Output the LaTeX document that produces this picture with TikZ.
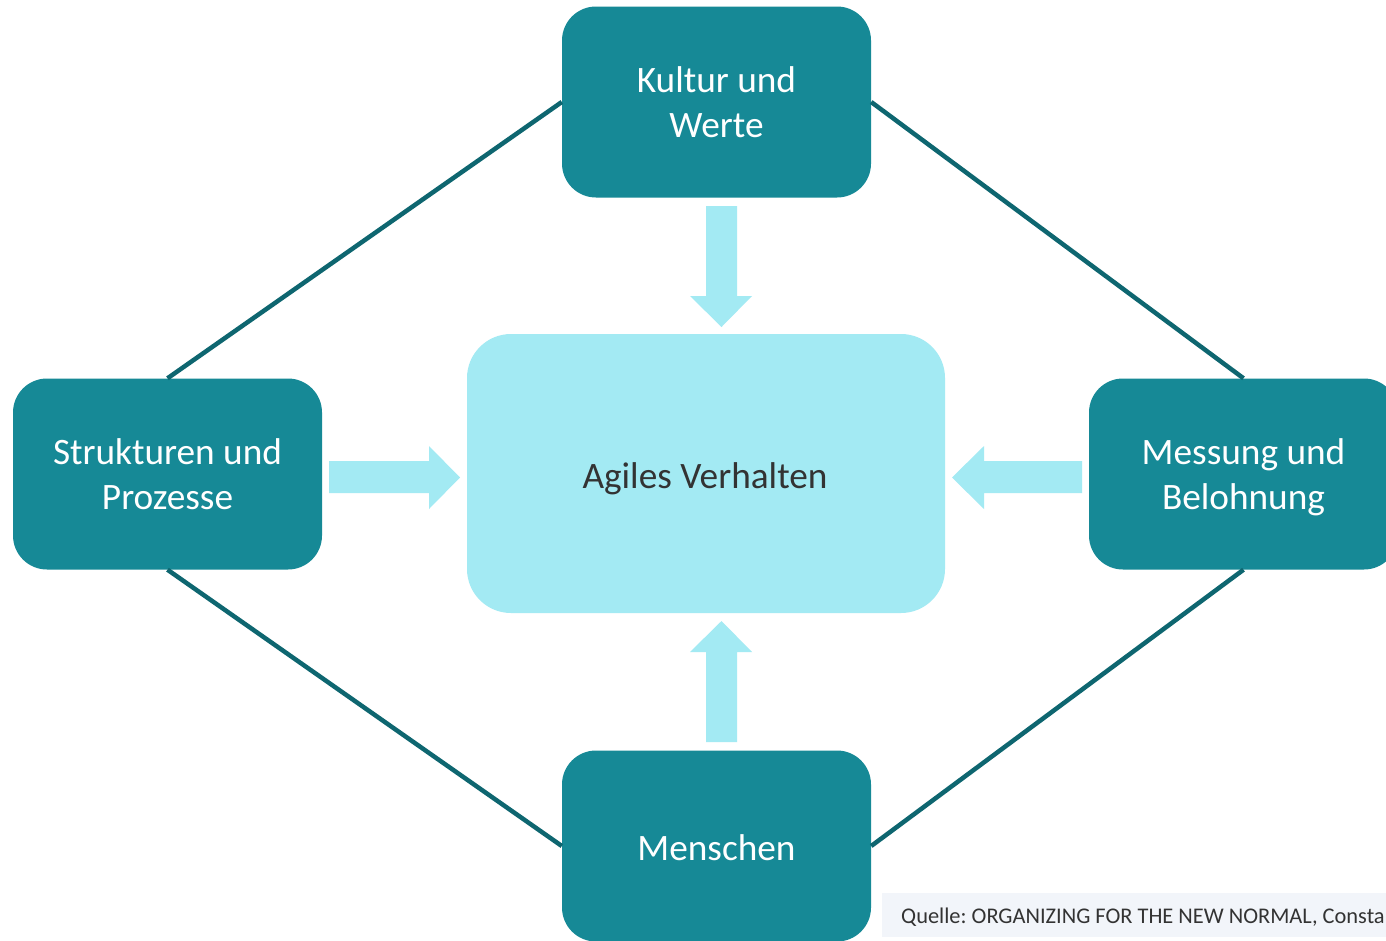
\documentclass[tikz,border=0pt]{standalone}
\usepackage{fontspec}
\setmainfont{Carlito}
\frenchspacing
\definecolor{teal}{RGB}{22,137,150}
\definecolor{darkteal}{RGB}{14,102,112}
\definecolor{lightcyan}{RGB}{163,234,243}
\definecolor{notebg}{RGB}{242,245,250}
\definecolor{darktext}{RGB}{51,51,51}
\begin{document}
\begin{tikzpicture}[x=1pt,y=-1pt,
  outer/.style={fill=teal, draw=none, rounded corners=34pt, minimum width=309pt, minimum height=191pt,
    inner sep=0pt},
  label/.style={text=white, align=center, inner sep=0pt, font=\fontsize{37.3}{45}\selectfont},
  core/.style={fill=lightcyan, draw=none, rounded corners=44pt, minimum width=478pt, minimum height=279pt,
    inner sep=0pt},
  link/.style={draw=darkteal, line width=4.5pt},
  blockarrow/.style={fill=lightcyan, draw=none}]
\useasboundingbox (0,0) rectangle (1386,940);
\fill[white] (0,0) rectangle (1386,940);

\node[outer] (kultur) at (716.5,102) {};
\node[outer] (struktur) at (167.5,474) {};
\node[outer] (messung) at (1243.5,474) {};
\node[outer] (menschen) at (716.5,846) {};
\node[core] (agil) at (706,473.5) {};

\node[label] (kulturtext) at (716.5,102) {Kultur und\\Werte};
\node[label] (strukturtext) at (167.5,474) {Strukturen und\\Prozesse};
\node[label] (messungtext) at (1243.5,477) {Messung und\\Belohnung};
\node[label] (menschentext) at (716.5,848) {Menschen};
\node[label, text=darktext] (agiltext) at (705,479) {Agiles Verhalten};

\draw[link] (struktur.north) -- (kultur.west);
\draw[link] (kultur.east) -- (messung.north);
\draw[link] (struktur.south) -- (menschen.west);
\draw[link] (menschen.east) -- (messung.south);

% block arrows
\fill[blockarrow] (706,206) -- (737,206) -- (737,296) -- (752,296) -- (721.5,327) -- (690,296) -- (706,296) -- cycle;
\fill[blockarrow] (329,461) -- (429,461) -- (429,446) -- (460,477.5) -- (429,509) -- (429,493) -- (329,493) -- cycle;
\fill[blockarrow] (1082,461) -- (984,461) -- (984,446) -- (952,477.5) -- (984,509) -- (984,493) -- (1082,493) -- cycle;
\fill[blockarrow] (706,742) -- (737,742) -- (737,652) -- (752,652) -- (721.5,621) -- (690,652) -- (706,652) -- cycle;

% source note
\node[fill=notebg, anchor=north west, minimum width=520pt, minimum height=44pt, inner sep=0pt] (notebox) at (882,893) {};
\node[anchor=west, text=darktext, font=\fontsize{22.4}{26}\selectfont, inner sep=0pt] (note) at (901,917) {Quelle: ORGANIZING FOR THE NEW NORMAL, Consta};
\end{tikzpicture}
\end{document}
